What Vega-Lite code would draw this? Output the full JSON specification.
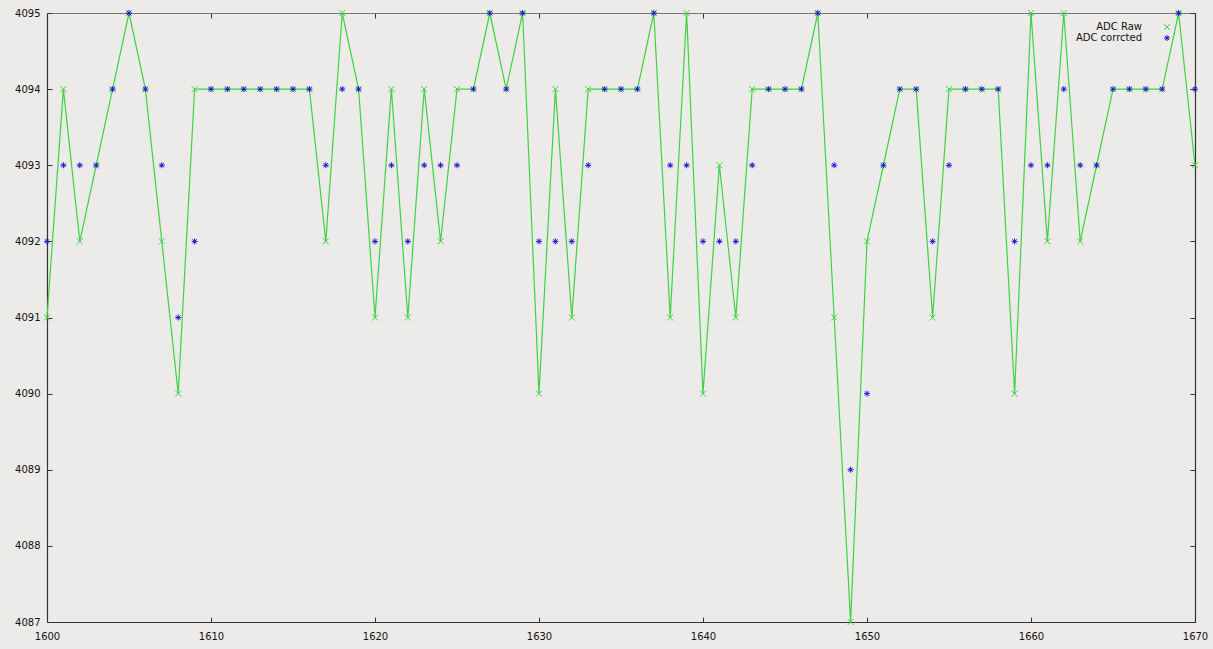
{
  "$schema": "https://vega.github.io/schema/vega-lite/v6.json",
  "width": 1148,
  "height": 609,
  "autosize": {"type": "none"},
  "padding": {"left": 47, "top": 13, "right": 18, "bottom": 27},
  "background": "#edebe9",
  "config": {
    "view": {"stroke": null},
    "font": "DejaVu Sans",
    "axis": {
      "grid": false,
      "domainColor": "#333333",
      "domainWidth": 1.2,
      "tickColor": "#333333",
      "tickSize": -5,
      "tickWidth": 1,
      "labelColor": "#111111",
      "labelFont": "DejaVu Sans",
      "labelFontSize": 10,
      "title": null
    }
  },
  "data": {
    "values": [
      {"x": 1600, "s": "ADC Raw", "v": 4091},
      {"x": 1601, "s": "ADC Raw", "v": 4094},
      {"x": 1602, "s": "ADC Raw", "v": 4092},
      {"x": 1603, "s": "ADC Raw", "v": 4093},
      {"x": 1604, "s": "ADC Raw", "v": 4094},
      {"x": 1605, "s": "ADC Raw", "v": 4095},
      {"x": 1606, "s": "ADC Raw", "v": 4094},
      {"x": 1607, "s": "ADC Raw", "v": 4092},
      {"x": 1608, "s": "ADC Raw", "v": 4090},
      {"x": 1609, "s": "ADC Raw", "v": 4094},
      {"x": 1610, "s": "ADC Raw", "v": 4094},
      {"x": 1611, "s": "ADC Raw", "v": 4094},
      {"x": 1612, "s": "ADC Raw", "v": 4094},
      {"x": 1613, "s": "ADC Raw", "v": 4094},
      {"x": 1614, "s": "ADC Raw", "v": 4094},
      {"x": 1615, "s": "ADC Raw", "v": 4094},
      {"x": 1616, "s": "ADC Raw", "v": 4094},
      {"x": 1617, "s": "ADC Raw", "v": 4092},
      {"x": 1618, "s": "ADC Raw", "v": 4095},
      {"x": 1619, "s": "ADC Raw", "v": 4094},
      {"x": 1620, "s": "ADC Raw", "v": 4091},
      {"x": 1621, "s": "ADC Raw", "v": 4094},
      {"x": 1622, "s": "ADC Raw", "v": 4091},
      {"x": 1623, "s": "ADC Raw", "v": 4094},
      {"x": 1624, "s": "ADC Raw", "v": 4092},
      {"x": 1625, "s": "ADC Raw", "v": 4094},
      {"x": 1626, "s": "ADC Raw", "v": 4094},
      {"x": 1627, "s": "ADC Raw", "v": 4095},
      {"x": 1628, "s": "ADC Raw", "v": 4094},
      {"x": 1629, "s": "ADC Raw", "v": 4095},
      {"x": 1630, "s": "ADC Raw", "v": 4090},
      {"x": 1631, "s": "ADC Raw", "v": 4094},
      {"x": 1632, "s": "ADC Raw", "v": 4091},
      {"x": 1633, "s": "ADC Raw", "v": 4094},
      {"x": 1634, "s": "ADC Raw", "v": 4094},
      {"x": 1635, "s": "ADC Raw", "v": 4094},
      {"x": 1636, "s": "ADC Raw", "v": 4094},
      {"x": 1637, "s": "ADC Raw", "v": 4095},
      {"x": 1638, "s": "ADC Raw", "v": 4091},
      {"x": 1639, "s": "ADC Raw", "v": 4095},
      {"x": 1640, "s": "ADC Raw", "v": 4090},
      {"x": 1641, "s": "ADC Raw", "v": 4093},
      {"x": 1642, "s": "ADC Raw", "v": 4091},
      {"x": 1643, "s": "ADC Raw", "v": 4094},
      {"x": 1644, "s": "ADC Raw", "v": 4094},
      {"x": 1645, "s": "ADC Raw", "v": 4094},
      {"x": 1646, "s": "ADC Raw", "v": 4094},
      {"x": 1647, "s": "ADC Raw", "v": 4095},
      {"x": 1648, "s": "ADC Raw", "v": 4091},
      {"x": 1649, "s": "ADC Raw", "v": 4087},
      {"x": 1650, "s": "ADC Raw", "v": 4092},
      {"x": 1651, "s": "ADC Raw", "v": 4093},
      {"x": 1652, "s": "ADC Raw", "v": 4094},
      {"x": 1653, "s": "ADC Raw", "v": 4094},
      {"x": 1654, "s": "ADC Raw", "v": 4091},
      {"x": 1655, "s": "ADC Raw", "v": 4094},
      {"x": 1656, "s": "ADC Raw", "v": 4094},
      {"x": 1657, "s": "ADC Raw", "v": 4094},
      {"x": 1658, "s": "ADC Raw", "v": 4094},
      {"x": 1659, "s": "ADC Raw", "v": 4090},
      {"x": 1660, "s": "ADC Raw", "v": 4095},
      {"x": 1661, "s": "ADC Raw", "v": 4092},
      {"x": 1662, "s": "ADC Raw", "v": 4095},
      {"x": 1663, "s": "ADC Raw", "v": 4092},
      {"x": 1664, "s": "ADC Raw", "v": 4093},
      {"x": 1665, "s": "ADC Raw", "v": 4094},
      {"x": 1666, "s": "ADC Raw", "v": 4094},
      {"x": 1667, "s": "ADC Raw", "v": 4094},
      {"x": 1668, "s": "ADC Raw", "v": 4094},
      {"x": 1669, "s": "ADC Raw", "v": 4095},
      {"x": 1670, "s": "ADC Raw", "v": 4093},
      {"x": 1600, "s": "ADC corrcted", "v": 4092},
      {"x": 1601, "s": "ADC corrcted", "v": 4093},
      {"x": 1602, "s": "ADC corrcted", "v": 4093},
      {"x": 1603, "s": "ADC corrcted", "v": 4093},
      {"x": 1604, "s": "ADC corrcted", "v": 4094},
      {"x": 1605, "s": "ADC corrcted", "v": 4095},
      {"x": 1606, "s": "ADC corrcted", "v": 4094},
      {"x": 1607, "s": "ADC corrcted", "v": 4093},
      {"x": 1608, "s": "ADC corrcted", "v": 4091},
      {"x": 1609, "s": "ADC corrcted", "v": 4092},
      {"x": 1610, "s": "ADC corrcted", "v": 4094},
      {"x": 1611, "s": "ADC corrcted", "v": 4094},
      {"x": 1612, "s": "ADC corrcted", "v": 4094},
      {"x": 1613, "s": "ADC corrcted", "v": 4094},
      {"x": 1614, "s": "ADC corrcted", "v": 4094},
      {"x": 1615, "s": "ADC corrcted", "v": 4094},
      {"x": 1616, "s": "ADC corrcted", "v": 4094},
      {"x": 1617, "s": "ADC corrcted", "v": 4093},
      {"x": 1618, "s": "ADC corrcted", "v": 4094},
      {"x": 1619, "s": "ADC corrcted", "v": 4094},
      {"x": 1620, "s": "ADC corrcted", "v": 4092},
      {"x": 1621, "s": "ADC corrcted", "v": 4093},
      {"x": 1622, "s": "ADC corrcted", "v": 4092},
      {"x": 1623, "s": "ADC corrcted", "v": 4093},
      {"x": 1624, "s": "ADC corrcted", "v": 4093},
      {"x": 1625, "s": "ADC corrcted", "v": 4093},
      {"x": 1626, "s": "ADC corrcted", "v": 4094},
      {"x": 1627, "s": "ADC corrcted", "v": 4095},
      {"x": 1628, "s": "ADC corrcted", "v": 4094},
      {"x": 1629, "s": "ADC corrcted", "v": 4095},
      {"x": 1630, "s": "ADC corrcted", "v": 4092},
      {"x": 1631, "s": "ADC corrcted", "v": 4092},
      {"x": 1632, "s": "ADC corrcted", "v": 4092},
      {"x": 1633, "s": "ADC corrcted", "v": 4093},
      {"x": 1634, "s": "ADC corrcted", "v": 4094},
      {"x": 1635, "s": "ADC corrcted", "v": 4094},
      {"x": 1636, "s": "ADC corrcted", "v": 4094},
      {"x": 1637, "s": "ADC corrcted", "v": 4095},
      {"x": 1638, "s": "ADC corrcted", "v": 4093},
      {"x": 1639, "s": "ADC corrcted", "v": 4093},
      {"x": 1640, "s": "ADC corrcted", "v": 4092},
      {"x": 1641, "s": "ADC corrcted", "v": 4092},
      {"x": 1642, "s": "ADC corrcted", "v": 4092},
      {"x": 1643, "s": "ADC corrcted", "v": 4093},
      {"x": 1644, "s": "ADC corrcted", "v": 4094},
      {"x": 1645, "s": "ADC corrcted", "v": 4094},
      {"x": 1646, "s": "ADC corrcted", "v": 4094},
      {"x": 1647, "s": "ADC corrcted", "v": 4095},
      {"x": 1648, "s": "ADC corrcted", "v": 4093},
      {"x": 1649, "s": "ADC corrcted", "v": 4089},
      {"x": 1650, "s": "ADC corrcted", "v": 4090},
      {"x": 1651, "s": "ADC corrcted", "v": 4093},
      {"x": 1652, "s": "ADC corrcted", "v": 4094},
      {"x": 1653, "s": "ADC corrcted", "v": 4094},
      {"x": 1654, "s": "ADC corrcted", "v": 4092},
      {"x": 1655, "s": "ADC corrcted", "v": 4093},
      {"x": 1656, "s": "ADC corrcted", "v": 4094},
      {"x": 1657, "s": "ADC corrcted", "v": 4094},
      {"x": 1658, "s": "ADC corrcted", "v": 4094},
      {"x": 1659, "s": "ADC corrcted", "v": 4092},
      {"x": 1660, "s": "ADC corrcted", "v": 4093},
      {"x": 1661, "s": "ADC corrcted", "v": 4093},
      {"x": 1662, "s": "ADC corrcted", "v": 4094},
      {"x": 1663, "s": "ADC corrcted", "v": 4093},
      {"x": 1664, "s": "ADC corrcted", "v": 4093},
      {"x": 1665, "s": "ADC corrcted", "v": 4094},
      {"x": 1666, "s": "ADC corrcted", "v": 4094},
      {"x": 1667, "s": "ADC corrcted", "v": 4094},
      {"x": 1668, "s": "ADC corrcted", "v": 4094},
      {"x": 1669, "s": "ADC corrcted", "v": 4095},
      {"x": 1670, "s": "ADC corrcted", "v": 4094}
    ]
  },
  "layer": [
    {
      "transform": [{"filter": "datum.s === 'ADC Raw'"}],
      "mark": {"type": "line", "color": "#3fd23f", "strokeWidth": 1.2, "clip": false},
      "encoding": {
        "x": {
          "field": "x", "type": "quantitative",
          "scale": {"domain": [1600, 1670], "nice": false, "zero": false},
          "axis": {"orient": "bottom", "values": [1600, 1610, 1620, 1630, 1640, 1650, 1660, 1670], "format": "d", "labelPadding": 14, "labelFlush": false}
        },
        "y": {
          "field": "v", "type": "quantitative",
          "scale": {"domain": [4087, 4095], "nice": false, "zero": false},
          "axis": {"orient": "left", "values": [4087, 4088, 4089, 4090, 4091, 4092, 4093, 4094, 4095], "format": "d", "labelPadding": 12, "labelFlush": false}
        }
      }
    },
    {
      "mark": {"type": "point", "filled": false, "strokeWidth": 1, "size": 36, "opacity": 1, "clip": false},
      "encoding": {
        "x": {"field": "x", "type": "quantitative", "axis": null},
        "y": {"field": "v", "type": "quantitative", "axis": null},
        "color": {
          "field": "s", "type": "nominal",
          "scale": {"domain": ["ADC Raw", "ADC corrcted"], "range": ["#3fd23f", "#1a1ad0"]},
          "legend": {
            "title": null,
            "orient": "none",
            "legendX": 1115,
            "legendY": 9,
            "padding": 0,
            "labelFont": "DejaVu Sans",
            "labelFontSize": 10,
            "labelColor": "#111111",
            "labelAlign": "right",
            "labelOffset": -30,
            "symbolSize": 36,
            "symbolStrokeWidth": 1,
            "rowPadding": 1
          }
        },
        "shape": {
          "field": "s", "type": "nominal",
          "scale": {"domain": ["ADC Raw", "ADC corrcted"], "range": ["M-1,-1L1,1M-1,1L1,-1", "M-1,0L1,0M0,-1L0,1M-0.7,-0.7L0.7,0.7M-0.7,0.7L0.7,-0.7"]},
          "legend": null
        }
      }
    },
    {
      "mark": {"type": "point", "opacity": 0},
      "encoding": {
        "x": {
          "field": "x", "type": "quantitative",
          "axis": {"orient": "top", "values": [1600, 1610, 1620, 1630, 1640, 1650, 1660, 1670], "labels": false, "domainColor": "#777777"}
        },
        "y": {
          "field": "v", "type": "quantitative",
          "axis": {"orient": "right", "values": [4087, 4088, 4089, 4090, 4091, 4092, 4093, 4094, 4095], "labels": false}
        }
      }
    }
  ],
  "resolve": {"axis": {"x": "independent", "y": "independent"}}
}
